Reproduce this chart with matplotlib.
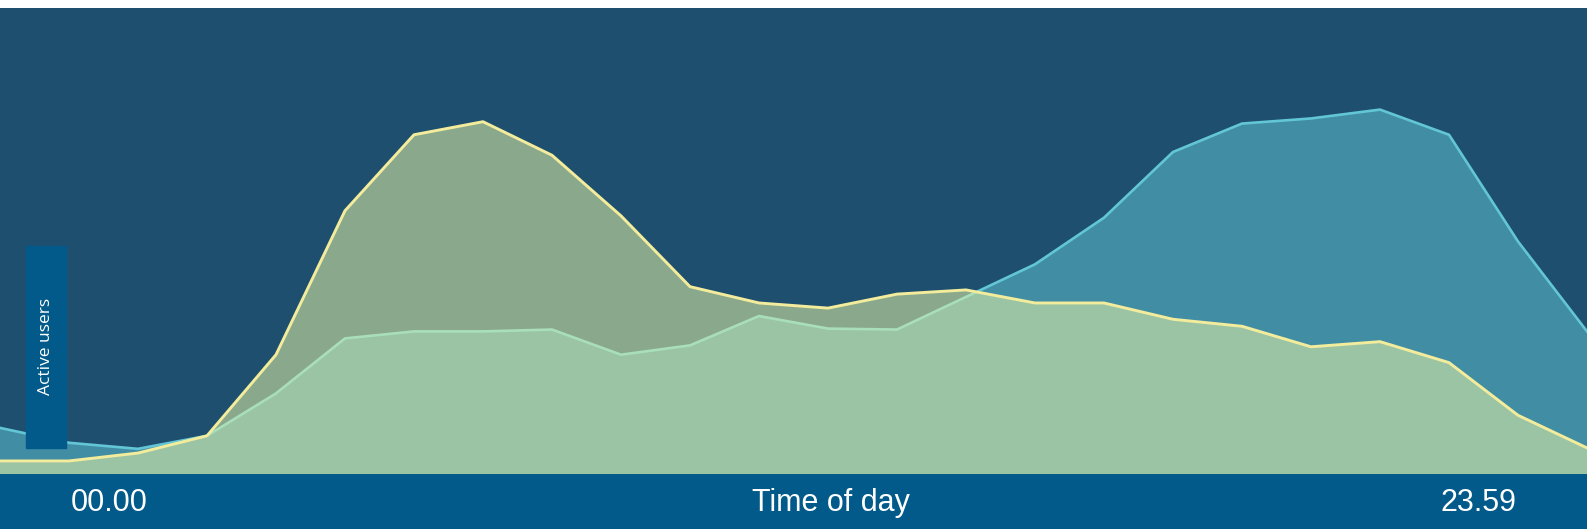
import matplotlib
matplotlib.use("Agg")
import matplotlib.pyplot as plt
from matplotlib.patches import Rectangle

# Hourly active-user levels (0-100 scale) for the two user groups
hours = list(range(24))
group_a = [2.8, 2.8, 4.5, 8.2, 25.6, 56.5, 72.8, 75.6, 68.4, 55.4, 40.2, 36.7,
           35.6, 38.6, 39.5, 36.7, 36.7, 33.2, 31.7, 27.3, 28.4, 23.9, 12.6, 5.6]
group_b = [9.9, 6.7, 5.4, 8.2, 17.3, 29.1, 30.6, 30.6, 31.0, 25.6, 27.6, 33.9,
           31.2, 31.0, 38.0, 45.0, 55.0, 69.1, 75.2, 76.3, 78.2, 72.8, 49.9, 30.6]

x_start_label = "00.00"
x_end_label = "23.59"
x_title = "Time of day"
y_title = "Active users"

BG = "#1e4f6e"
BAND = "#015a89"

W, H = 1587, 529
fig = plt.figure(figsize=(W / 100, H / 100), dpi=100)
fig.patch.set_facecolor("white")

plot_top, plot_bottom = 8, 474
ax = fig.add_axes([0, (H - plot_bottom) / H, 1, (plot_bottom - plot_top) / H])
ax.set_facecolor(BG)
ax.set_xlim(hours[0], hours[-1])
ax.set_ylim(0, 100)
ax.axis("off")
ax.add_patch(Rectangle((0, 0), 1, 1, transform=ax.transAxes, color=BG, zorder=0))

# Evening group underneath, daytime group on top
ax.fill_between(hours, group_b, 0, color="#5ab9c9", alpha=0.6, lw=0, zorder=1)
ax.plot(hours, group_b, color="#62c6d6", lw=1.9, zorder=2)
ax.fill_between(hours, group_a, 0, color="#e4f2a4", alpha=0.55, lw=0, zorder=3)
ax.plot(hours, group_a, color="#f3ec9c", lw=2.1, zorder=4)

# Bottom band with the time axis labels
band = fig.add_axes([0, 0, 1, (H - plot_bottom) / H])
band.set_facecolor(BAND)
band.set_xlim(0, W)
band.set_ylim(0, 1)
band.set_xticks([])
band.set_yticks([])
for s in band.spines.values():
    s.set_visible(False)
lab_font = dict(color="white", fontsize=22, family="Liberation Sans",
                va="center", ha="center")
band.text(109, 0.48, x_start_label, **lab_font)
band.text(831, 0.48, x_title, **lab_font)
band.text(1479, 0.48, x_end_label, **lab_font)

# Vertical tag for the value axis
tag_l, tag_r = 26 / W, 66 / W
tag_b, tag_t = (H - 448) / H, (H - 246) / H
fig.patches.append(Rectangle((tag_l, tag_b), tag_r - tag_l, tag_t - tag_b,
                             transform=fig.transFigure, color=BAND, zorder=10))
fig.text((tag_l + tag_r) / 2, (H - 346) / H, y_title, rotation=90,
         color="white", fontsize=12.5, family="Open Sans",
         ha="center", va="center", zorder=11)

fig.savefig("out.png", dpi=100, facecolor="white")
